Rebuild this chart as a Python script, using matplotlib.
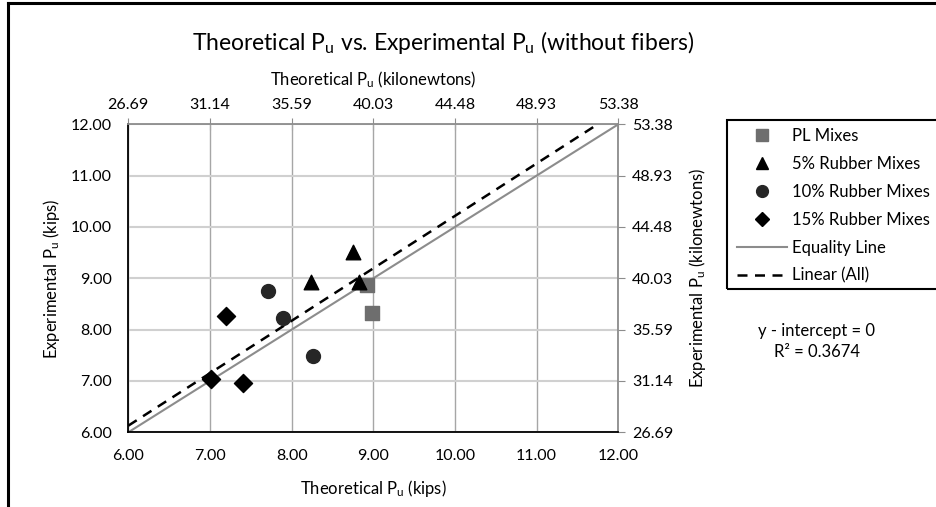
import numpy as np
import matplotlib
matplotlib.use("Agg")
import matplotlib.pyplot as plt
from matplotlib.lines import Line2D
from matplotlib.patches import Rectangle

plt.rcParams['font.family'] = ['Lato', 'DejaVu Sans']
plt.rcParams['mathtext.fontset'] = 'custom'
plt.rcParams['mathtext.rm'] = 'Lato'
plt.rcParams['mathtext.default'] = 'regular'

# datos (kips)
pl_x = [8.92, 8.98]
pl_y = [8.87, 8.32]
r5_x = [8.24, 8.75, 8.83]
r5_y = [8.93, 9.52, 8.93]
r10_x = [7.71, 7.89, 8.26]
r10_y = [8.76, 8.22, 7.48]
r15_x = [7.20, 7.01, 7.41]
r15_y = [8.26, 7.03, 6.97]
kips_ticks = [6, 7, 8, 9, 10, 11, 12]
KN = 4.4482

fig = plt.figure(figsize=(9.37, 5.07), dpi=100)
W, H = 937, 507
ax = fig.add_axes([128.3 / W, 1 - 432.3 / H, 490 / W, 308 / H])

ax.plot([6, 12], [6, 12], color='#8c8c8c', lw=1.5, zorder=2)

# trend line through origin (all points)
all_x = np.array(pl_x + r5_x + r10_x + r15_x)
all_y = np.array(pl_y + r5_y + r10_y + r15_y)
slope = np.sum(all_x * all_y) / np.sum(all_x ** 2)
xx = np.array([6, 12])
ax.plot(xx, slope * xx, color='black', lw=1.8, ls=(0, (4, 3)), zorder=2)

ax.scatter(pl_x, pl_y, marker='s', s=95, color='#6e6e6e', zorder=3)
ax.scatter(r5_x, r5_y, marker='^', s=110, color='black', zorder=3)
ax.scatter(r10_x, r10_y, marker='o', s=100, color='#262626', zorder=3)
ax.scatter(r15_x, r15_y, marker='D', s=85, color='black', zorder=3)

ax.set_xlim(6, 12)
ax.set_ylim(6, 12)
ax.set_xticks(kips_ticks)
ax.set_yticks(kips_ticks)
ax.set_xticklabels(['%.2f' % t for t in kips_ticks], fontsize=11.5)
ax.set_yticklabels(['%.2f' % t for t in kips_ticks], fontsize=11.5)
ax.tick_params(axis='x', length=0, pad=12)
ax.tick_params(axis='y', length=0, pad=12)
ax.grid(axis='x', color='#a6a6a6', lw=1)
ax.grid(axis='y', color='#d0d0d0', lw=1.5)
ax.set_axisbelow(True)
for s in ['left', 'bottom']:
    ax.spines[s].set_color('black')
    ax.spines[s].set_linewidth(1.3)
for s in ['top', 'right']:
    ax.spines[s].set_color('#8c8c8c')
    ax.spines[s].set_linewidth(1.3)

ax.set_xlabel('Theoretical P$_u$ (kips)', fontsize=12, labelpad=11)
ax.set_ylabel('Experimental P$_u$ (kips)', fontsize=12, labelpad=6)

top = ax.secondary_xaxis('top', functions=(lambda x: x * KN, lambda x: x / KN))
top.set_xticks([t * KN for t in kips_ticks])
top.set_xticklabels(['%.2f' % (t * KN) for t in kips_ticks], fontsize=11.5)
top.tick_params(direction='inout', length=8, color='#8c8c8c', pad=5)
top.spines['top'].set_visible(False)
top.set_xlabel('Theoretical P$_u$ (kilonewtons)', fontsize=12, labelpad=9)

right = ax.secondary_yaxis('right', functions=(lambda y: y * KN, lambda y: y / KN))
right.set_yticks([t * KN for t in kips_ticks])
right.set_yticklabels(['%.2f' % (t * KN) for t in kips_ticks], fontsize=11.5)
right.tick_params(direction='out', length=5, color='#8c8c8c', pad=5)
right.spines['right'].set_visible(False)
right.set_ylabel('Experimental P$_u$ (kilonewtons)', fontsize=12, labelpad=10)

fig.text(443 / W, 1 - 42 / H, 'Theoretical P$_u$ vs. Experimental P$_u$ (without fibers)',
         fontsize=16.5, ha='center', va='center')

# legend
handles = [
    Line2D([], [], marker='s', ls='none', color='#6e6e6e', markersize=8),
    Line2D([], [], marker='^', ls='none', color='black', markersize=8.5),
    Line2D([], [], marker='o', ls='none', color='#262626', markersize=8.5),
    Line2D([], [], marker='D', ls='none', color='black', markersize=7),
    Line2D([], [], color='#8c8c8c', lw=1.5),
    Line2D([], [], color='black', lw=1.8, ls=(0, (4, 3))),
]
labels = ['PL Mixes', '5% Rubber Mixes', '10% Rubber Mixes', '15% Rubber Mixes',
          'Equality Line', 'Linear (All)']
fig.legend(handles, labels, loc='upper left', bbox_to_anchor=(730 / W, 1 - 121 / H),
           frameon=False, fontsize=12, handlelength=3.0, labelspacing=0.72,
           handletextpad=0.3, borderaxespad=0)
fig.patches.append(Rectangle((727 / W, 1 - 289 / H), 260 / W, 169 / H,
                             transform=fig.transFigure, fill=False,
                             edgecolor='black', lw=1.5))

fig.text(817 / W, 1 - 331 / H, 'y - intercept = 0', fontsize=12, ha='center', va='center')
fig.text(817 / W, 1 - 352 / H, 'R² = 0.3674', fontsize=12, ha='center', va='center')

# chart border
fig.add_artist(Line2D([8.5 / W, 8.5 / W], [0, 1 - 3 / H], color='black', lw=2.2,
                      transform=fig.transFigure))
fig.add_artist(Line2D([8.5 / W, 1], [1 - 3 / H, 1 - 3 / H], color='black', lw=2.2,
                      transform=fig.transFigure))

fig.savefig('out.png', dpi=100)
